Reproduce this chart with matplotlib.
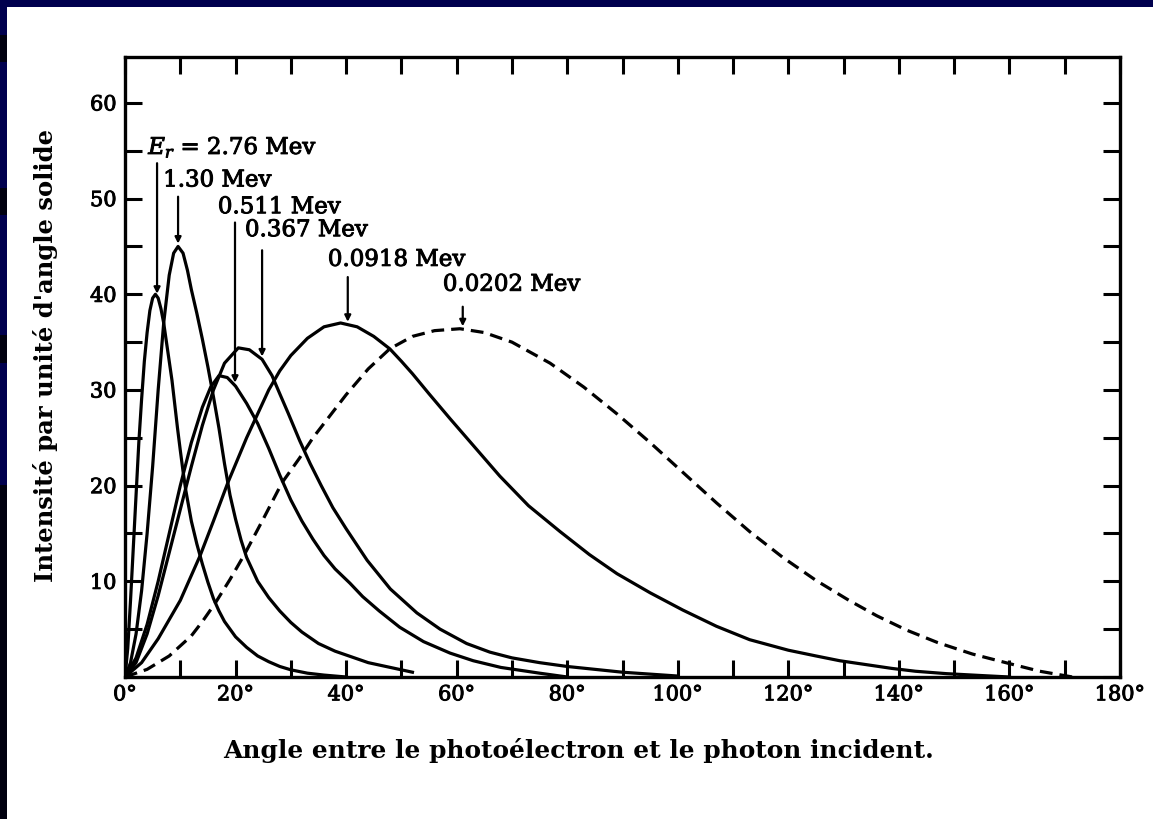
import numpy as np
import matplotlib
matplotlib.use('Agg')
import matplotlib.pyplot as plt
import matplotlib.patheffects as pe
from matplotlib.patches import Rectangle
from matplotlib.ticker import MultipleLocator, FuncFormatter


# angular distribution of photoelectrons
# (angle in degrees, intensity per unit solid angle)
a_ang = [0, 0.5, 1, 1.5, 2, 2.5, 3, 3.5, 4, 4.5, 5, 5.5, 6, 6.5, 7, 7.5, 8, 8.5, 9, 9.5, 10, 10.5, 11,
         12, 13, 14, 15, 16, 17, 18, 20, 22, 24, 26, 28, 30, 33, 36, 40]
a_int = [0, 3, 8, 13.5, 19, 24.5, 29, 33, 36, 38.3, 39.6, 40, 39.6, 38.5, 37, 35, 33, 31, 28.5, 26, 23.7, 21.5, 19.5,
         16.3, 13.9, 11.8, 9.9, 8.2, 6.9, 5.8, 4.2, 3.1, 2.2, 1.6, 1.1, 0.75, 0.4, 0.2, 0]

b_ang = [0, 1, 2, 3, 4, 5, 6, 7, 8, 8.8, 9.6, 10.5, 11.3, 12, 13, 14, 15, 16, 17, 18, 19, 20, 21, 22,
         24, 26, 28, 30, 32, 35, 38, 41, 44, 48, 52]
b_int = [0, 1.5, 4.5, 9, 15, 22, 30, 37, 42, 44.3, 45, 44.3, 42.5, 40.5, 38, 35.3, 32.4, 29.3, 26, 22.3, 19, 16.5, 14.3, 12.5,
         10, 8.3, 6.9, 5.7, 4.7, 3.5, 2.7, 2.1, 1.5, 1.0, 0.5]

c_ang = [0, 2, 4, 6, 8, 10, 12, 14, 15.5, 17, 18.5, 20, 22, 24, 26, 28, 30, 32, 34, 36, 38, 40.7, 43, 46,
         49.7, 54, 58.8, 63, 68, 75, 80]
c_int = [0, 2, 5.5, 10, 15, 20, 24.5, 28.2, 30.3, 31.5, 31.3, 30.4, 28.6, 26.5, 23.9, 21.1, 18.5, 16.3, 14.4, 12.7, 11.3, 9.8, 8.4, 6.9,
         5.2, 3.7, 2.5, 1.7, 1.0, 0.4, 0]

d_ang = [0, 2, 4, 6, 8, 10, 12, 14, 16, 18, 20.5, 22.5, 24.8, 26.6, 28, 29.5, 31.6, 33.5, 35.5, 37.6, 40, 43.8,
         48, 52.8, 57, 61.8, 66, 70, 75, 80, 90, 100]
d_int = [0, 1.5, 4.5, 8.5, 13, 17.5, 22, 26.3, 30, 32.8, 34.4, 34.2, 33.2, 31.5, 29.6, 27.6, 24.7, 22.3, 20, 17.7, 15.5, 12.2,
         9.2, 6.7, 5, 3.5, 2.6, 2.0, 1.5, 1.1, 0.5, 0.1]

e_ang = [0, 3, 6, 10, 13.6, 16, 18.6, 22, 26, 28, 30, 33, 36, 39, 42, 45, 47.9, 50, 52, 55, 58.8, 63, 67.8,
         73, 78.7, 84, 89, 95, 100.9, 107, 113, 120, 125, 129.3, 134, 138.7, 143, 148.6, 155, 160]
e_int = [0, 1.5, 4, 8, 12.7, 16.3, 20.3, 25, 30, 32, 33.6, 35.4, 36.6, 37, 36.6, 35.6, 34.3, 33.0, 31.7, 29.6, 27.0, 24.2, 21.0,
         17.9, 15.2, 12.8, 10.8, 8.8, 7.0, 5.3, 3.9, 2.8, 2.2, 1.7, 1.3, 0.9, 0.6, 0.35, 0.15, 0]

f_ang = [0, 4, 8, 12, 14, 16.3, 19, 21.7, 25, 28.4, 31.6, 34, 36, 40, 44, 47.9, 52, 56, 60.6, 65, 70, 76.9,
         83, 89, 95, 100.9, 107, 113, 119, 125, 131, 136, 141.4, 147, 153.3, 160, 165.5, 171.4]
f_int = [0, 0.8, 2.2, 4.3, 5.8, 7.7, 10.2, 12.9, 16.5, 20.3, 22.9, 25, 26.5, 29.5, 32.2, 34.3, 35.6, 36.2, 36.4, 36, 35, 32.8,
         30.3, 27.5, 24.5, 21.4, 18.2, 15.2, 12.5, 10.1, 8.0, 6.4, 4.9, 3.6, 2.4, 1.4, 0.6, 0]

curves = [(a_ang, a_int), (b_ang, b_int), (c_ang, c_int), (d_ang, d_int), (e_ang, e_int), (f_ang, f_int)]
dashed = [False, False, False, False, False, True]

# energy labels with their arrows
labels = [r'$E_r$ = 2.76 Mev', '1.30 Mev', '0.511 Mev', '0.367 Mev', '0.0918 Mev', '0.0202 Mev']
label_curve = [0, 1, 2, 3, 4, 5]
arrow_ang = [5.8, 9.6, 19.9, 24.8, 40.3, 61.1]
arrow_top = [53.7, 50.2, 47.5, 44.6, 41.8, 38.7]
text_ang = [4.2, 6.9, 16.8, 21.7, 36.7, 57.5]
text_int = [55.3, 51.9, 49.1, 46.7, 43.6, 41.0]

plt.rcParams['font.family'] = ['DejaVu Serif']
plt.rcParams['mathtext.fontset'] = 'dejavuserif'

heavy = [pe.withStroke(linewidth=0.7, foreground='black')]

fig = plt.figure(figsize=(11.53, 8.19), dpi=100)
fig.patch.set_facecolor('#00004e')
# white scanned page, the navy slide border shows on the left and top
fig.patches.append(Rectangle((7 / 1153, 0), 1, 1 - 7 / 819, transform=fig.transFigure,
                             facecolor='white', edgecolor='none', zorder=-10))
# darker bands on the left border of the slide
for y0, y1 in [(35, 62), (188, 215), (335, 363), (485, 819)]:
    fig.patches.append(Rectangle((0, 1 - y1 / 819), 7 / 1153, (y1 - y0) / 819,
                                 transform=fig.transFigure, facecolor='#00000f',
                                 edgecolor='none', zorder=-10))

ax = fig.add_axes([125 / 1153, 1 - 677 / 819, 995 / 1153, 620 / 819])
ax.set_facecolor('white')

for (x, y), dash in zip(curves, dashed):
    if dash:
        ax.plot(x, y, color='black', lw=2.3, dashes=(4, 2.2))
    else:
        ax.plot(x, y, color='black', lw=2.3)

for i in range(len(labels)):
    x, y = curves[label_curve[i]]
    tip = np.interp(arrow_ang[i], x, y)
    ax.annotate('', xy=(arrow_ang[i], tip + 0.3), xytext=(arrow_ang[i], arrow_top[i]),
                arrowprops=dict(arrowstyle='-|>', color='black', lw=1.6, mutation_scale=9,
                                shrinkA=0, shrinkB=0))
    ax.text(text_ang[i], text_int[i], labels[i], fontsize=16.5, ha='left', va='center',
            path_effects=heavy)

ax.set_xlim(0, 180)
ax.set_ylim(0, 64.8)
ax.xaxis.set_major_locator(MultipleLocator(20))
ax.xaxis.set_minor_locator(MultipleLocator(10))
ax.yaxis.set_major_locator(MultipleLocator(10))
ax.yaxis.set_minor_locator(MultipleLocator(5))
ax.xaxis.set_major_formatter(FuncFormatter(lambda v, p: '%d°' % v))
ax.yaxis.set_major_formatter(FuncFormatter(lambda v, p: '' if v == 0 else '%d' % v))
ax.tick_params(which='both', direction='in', length=12, width=2.2, top=True, right=True,
               labelsize=15, pad=6)
for lab in ax.get_xticklabels() + ax.get_yticklabels():
    lab.set_path_effects(heavy)
for s in ax.spines.values():
    s.set_linewidth(2.4)

ax.set_xlabel('Angle entre le photoélectron et le photon incident.', fontsize=17.9,
              fontweight='bold', va='center')
ax.xaxis.set_label_coords(0.456, -0.118)
ax.set_ylabel("Intensité par unité d'angle solide", fontsize=17.5, fontweight='bold', va='center')
ax.yaxis.set_label_coords(-0.080, 0.519)

fig.savefig('out.png', dpi=100, facecolor=fig.get_facecolor())
